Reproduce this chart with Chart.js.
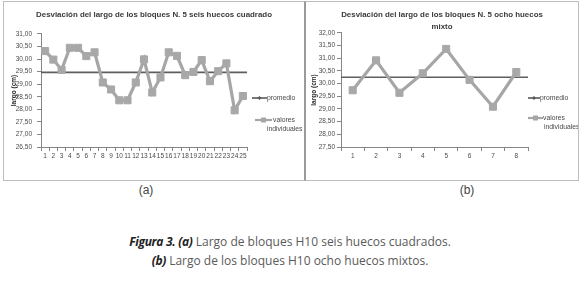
<!DOCTYPE html>
<html><head><meta charset="utf-8">
<script src="https://cdn.jsdelivr.net/npm/chart.js@4/dist/chart.umd.min.js"></script>
<style>
html,body{margin:0;padding:0;background:#fff;width:580px;height:283px;overflow:hidden;position:relative;font-family:"Open Sans","Liberation Sans",sans-serif;}
.box{position:absolute;border:1px solid #bdbdbd;box-sizing:content-box;}
#boxA{left:3px;top:1px;width:300px;height:178px;border-right-color:#9a9a9a;}
#boxB{left:305px;top:1px;width:272px;height:178px;border-left-color:#9a9a9a;}
canvas{display:block;}
.lab{position:absolute;font-family:"Liberation Sans",Arial,sans-serif;font-size:12px;color:#444;transform:translate(-50%,-50%);white-space:nowrap;}
.cap{position:absolute;left:0;width:580px;text-align:center;font-family:"Open Sans",sans-serif;font-size:12px;color:#5a5a5a;line-height:14px;}
.cap b{font-style:italic;color:#222;font-weight:700;letter-spacing:-0.3px;}
</style></head>
<body>
<div class="box" id="boxA"><canvas id="cA" width="300" height="178"></canvas></div>
<div class="box" id="boxB"><canvas id="cB" width="272" height="178"></canvas></div>
<div class="lab" style="left:146px;top:190px;">(a)</div>
<div class="lab" style="left:467px;top:190px;">(b)</div>
<div class="cap" style="top:235px;"><b>Figura 3. (a)</b> Largo de bloques H10 seis huecos cuadrados.</div>
<div class="cap" style="top:254px;"><b>(b)</b> Largo de los bloques H10 ocho huecos mixtos.</div>
<script>
const catsA = ['1','2','3','4','5','6','7','8','9','10','11','12','13','14','15','16','17','18','19','20','21','22','23','24','25'];
const valoresA = [30.32, 29.98, 29.57, 30.45, 30.45, 30.12, 30.27, 29.07, 28.79, 28.36, 28.36, 29.07, 29.99, 28.67, 29.27, 30.27, 30.13, 29.36, 29.49, 29.96, 29.12, 29.52, 29.83, 27.96, 28.53];
const promedioA = [29.47, 29.47];
const catsB = ['1','2','3','4','5','6','7','8'];
const valoresB = [29.74, 30.92, 29.64, 30.41, 31.37, 30.15, 29.09, 30.46];
const promedioB = [30.25, 30.25];
const yRangeA = [26.5, 31.0];
const yRangeB = [27.5, 32.0];
const yStep = 0.5;
const titleA = ['Desviación del largo de los bloques N. 5 seis huecos cuadrado'];
const titleB = ['Desviación del largo de los bloques N. 5 ocho huecos', 'mixto'];
const yTitle = 'largo (cm)';
const legendLabels = [['promedio'], ['valores', 'individuales']];

const AX = '#868686';
const TXT = '#4a4a4a';
const FONT = '"Liberation Sans Narrow","Liberation Sans",Arial,sans-serif';

const legendPlugin = {
  id: 'xlLegend',
  afterDraw(chart, args, o) {
    const ctx = chart.ctx;
    ctx.save();
    ctx.font = '6.8px ' + FONT;
    ctx.fillStyle = TXT;
    ctx.textBaseline = 'middle';
    ctx.textAlign = 'left';
    const p = o.p;
    ctx.strokeStyle = '#5a5a5a'; ctx.lineWidth = 1.6;
    ctx.beginPath(); ctx.moveTo(p.x0, p.y); ctx.lineTo(p.x1, p.y); ctx.stroke();
    const pc = (p.x0 + p.x1) / 2;
    ctx.fillStyle = '#5a5a5a';
    ctx.beginPath(); ctx.moveTo(pc, p.y - 2); ctx.lineTo(pc + 2, p.y); ctx.lineTo(pc, p.y + 2); ctx.lineTo(pc - 2, p.y); ctx.closePath(); ctx.fill();
    ctx.fillStyle = TXT;
    ctx.fillText(legendLabels[0][0], p.x1, p.y);
    const v = o.v;
    ctx.strokeStyle = '#a6a6a6'; ctx.lineWidth = 2.2;
    ctx.beginPath(); ctx.moveTo(v.x0, v.y); ctx.lineTo(v.x1, v.y); ctx.stroke();
    const vc = (v.x0 + v.x1) / 2;
    ctx.fillStyle = '#a6a6a6';
    ctx.fillRect(vc - 2.5, v.y - 2.5, 5, 5);
    ctx.fillStyle = TXT;
    ctx.fillText(legendLabels[1][0], v.tx, v.y);
    ctx.fillText(legendLabels[1][1], v.tx2, v.y2);
    ctx.restore();
  }
};

function makeChart(id, cats, vals, prom, yRange, title, dims) {
  const fmt = v => v.toFixed(2).replace('.', ',');
  return new Chart(document.getElementById(id), {
    type: 'line',
    data: {
      labels: cats,
      datasets: [
        {
          label: legendLabels[0][0],
          data: [{x: 0, y: prom[0]}, {x: 1, y: prom[1]}],
          xAxisID: 'x2', yAxisID: 'y',
          borderColor: '#5e5e5e', borderWidth: 1.6, pointRadius: 0, order: 2
        },
        {
          label: legendLabels[1].join(' '),
          data: vals,
          xAxisID: 'x', yAxisID: 'y',
          borderColor: '#a6a6a6', borderWidth: 3.2,
          pointStyle: 'rect', pointRadius: dims.pr, pointBackgroundColor: '#a8a8a8',
          pointBorderColor: '#a8a8a8', pointBorderWidth: 1, order: 1, tension: 0
        }
      ]
    },
    options: {
      responsive: false, animation: false, devicePixelRatio: 1,
      events: [],
      layout: {padding: {left: 0, right: 0, top: 0, bottom: 0}},
      plugins: {
        legend: {display: false},
        tooltip: {enabled: false},
        title: {
          display: true, text: title, color: '#3a3a3a',
          font: {family: FONT, size: 7.9, weight: 'bold', lineHeight: 1.48},
          padding: {top: dims.tpt, bottom: dims.tpb}
        },
        xlLegend: dims.legend
      },
      scales: {
        x: {
          type: 'category', offset: true, position: 'bottom',
          grid: {offset: true, drawOnChartArea: false, drawTicks: true, tickLength: 4, color: AX},
          border: {color: AX, width: 1},
          ticks: {autoSkip: false, maxRotation: 0, minRotation: 0, padding: dims.xpad, color: TXT, font: {family: FONT, size: 6.5}},
          afterFit: s => { s.height = dims.xh; }
        },
        x2: {type: 'linear', display: false, min: 0, max: 1},
        y: {
          type: 'linear', position: 'left', min: yRange[0], max: yRange[1],
          grid: {drawOnChartArea: false, drawTicks: true, tickLength: 4, color: AX},
          border: {color: AX, width: 1},
          ticks: {stepSize: yStep, padding: dims.ypad, color: TXT, font: {family: FONT, size: 6.5}, callback: v => fmt(v)},
          title: {display: true, text: yTitle, color: '#2a2a2a', font: {family: FONT, size: 6.5, weight: 'bold'}, padding: {top: dims.ytp, bottom: 0}},
          afterFit: s => { s.width = dims.yw; }
        },
        y2: {
          type: 'linear', position: 'right', display: true,
          grid: {display: false, drawTicks: false}, border: {display: false},
          ticks: {display: false},
          afterFit: s => { s.width = dims.rw; }
        }
      }
    },
    plugins: [legendPlugin]
  });
}

makeChart('cA', catsA, valoresA, promedioA, yRangeA, titleA, {
  pr: 5, tpt: 7, tpb: 13.3, xh: 33, xpad: 1, yw: 37, ypad: 5, ytp: 6, rw: 57,
  legend: {p: {x0: 248, x1: 263, y: 96}, v: {x0: 251, x1: 268, y: 118, tx: 269, tx2: 263, y2: 127}}
});
makeChart('cB', catsB, valoresB, promedioB, yRangeB, titleB, {
  pr: 5, tpt: 7, tpb: 0.6, xh: 33, xpad: 1, yw: 35, ypad: 2, ytp: 4, rw: 50,
  legend: {p: {x0: 222, x1: 234, y: 96}, v: {x0: 222, x1: 237, y: 116, tx: 237, tx2: 238, y2: 125}}
});
</script>
</body></html>
